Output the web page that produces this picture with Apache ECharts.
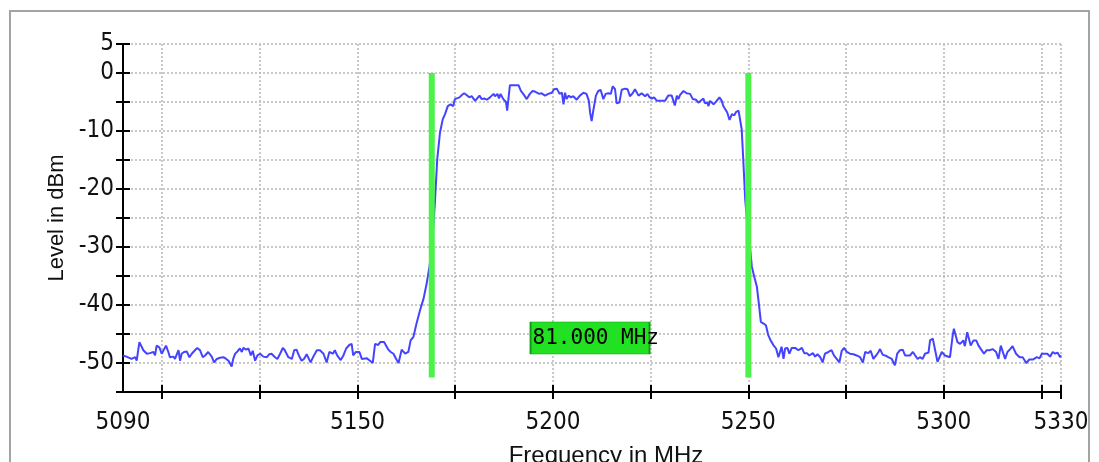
<!DOCTYPE html>
<html><head><meta charset="utf-8">
<script src="https://cdn.jsdelivr.net/npm/echarts@6/dist/echarts.min.js"></script>
<style>html,body{margin:0;padding:0;background:#fff}#c{width:1099px;height:462px}</style>
</head><body><div id="c"></div>
<script>
// Measured trace: [frequency MHz, level dBm]
const lowSkirt = [
[5090.0,-48.7],[5090.9,-48.9],[5092.2,-49.3],[5093.1,-49.0],[5093.5,-49.6],[5094.2,-46.4],[5094.5,-46.1],[5095.2,-47.8],
[5096.1,-48.4],[5096.9,-48.3],[5097.8,-48.1],[5098.2,-48.7],[5098.6,-47.0],[5099.3,-47.3],[5099.9,-48.4],[5100.3,-48.1],
[5101.0,-47.0],[5101.6,-48.1],[5102.0,-49.0],[5102.9,-48.9],[5103.3,-49.3],[5104.2,-47.8],[5104.6,-49.6],[5105.0,-48.4],
[5105.6,-48.1],[5106.3,-48.0],[5107.0,-49.0],[5107.6,-48.4],[5108.4,-47.8],[5109.0,-47.4],[5109.7,-47.8],[5110.4,-49.0],
[5111.0,-48.7],[5111.8,-48.1],[5112.7,-48.9],[5113.3,-49.9],[5114.0,-49.3],[5114.8,-49.1],[5115.7,-49.0],[5116.4,-49.3],
[5117.0,-49.6],[5117.4,-50.1],[5117.8,-50.6],[5118.2,-49.3],[5118.7,-48.4],[5119.3,-48.0],[5119.9,-47.5],[5120.4,-48.1],
[5120.8,-47.4],[5121.5,-47.7],[5122.1,-47.5],[5122.7,-48.7],[5123.2,-47.9],[5123.8,-49.6],[5124.4,-48.7],[5125.1,-48.4],
[5125.9,-48.9],[5126.8,-49.0],[5127.4,-48.5],[5128.0,-48.4],[5128.9,-49.0],[5129.5,-49.3],[5130.2,-48.4],[5130.9,-47.4],
[5131.4,-47.8],[5132.3,-49.0],[5133.2,-49.3],[5133.8,-47.8],[5134.4,-47.7],[5135.0,-48.7],[5135.7,-49.6],[5136.3,-49.3],
[5137.0,-48.5],[5137.4,-48.3],[5138.0,-49.9],[5138.7,-48.9],[5139.6,-47.8],
[5140.4,-47.8],[5141.3,-48.4],[5142.1,-49.9],[5142.8,-48.1],[5143.7,-48.4],[5144.2,-47.8],[5144.8,-48.7],[5145.7,-49.5],
[5146.4,-48.7],[5147.1,-47.5],[5147.9,-46.9],[5148.5,-46.7],[5148.9,-48.7],[5149.6,-48.1],[5150.5,-48.1],[5151.1,-49.3],
[5152.4,-49.2],[5153.2,-49.6],[5153.9,-50.0],[5154.5,-46.7],[5155.3,-46.9],[5155.8,-46.4],[5156.8,-46.4],[5157.3,-46.1],
[5157.9,-47.7],[5158.5,-48.1],[5159.2,-48.4],[5159.9,-49.3],[5160.5,-50.0],[5161.3,-47.7],[5162.2,-48.4],[5163.0,-48.1]
];
const lowerEdgeAndPassband = [
[5163.6,-46.1],[5164.3,-45.5],[5165.1,-43.2],[5166.0,-40.9],[5166.9,-38.9],[5167.7,-36.3],[5168.4,-33.4],[5169.0,-30.5],
[5169.4,-26.5],[5169.8,-22.4],[5170.4,-14.9],[5171.1,-10.3],[5171.8,-8.0],[5172.4,-7.1],[5173.1,-5.7],[5173.8,-5.4],
[5174.5,-5.7],[5174.9,-4.5],[5175.4,-4.8],[5176.1,-4.2],[5176.7,-3.8],[5177.3,-3.5],[5177.9,-3.8],[5178.6,-4.2],
[5179.2,-4.0],[5180.1,-4.8],[5181.2,-3.9],[5181.8,-4.5],[5182.4,-4.4],[5183.1,-4.6],[5183.9,-4.2],[5184.8,-3.6],
[5185.2,-4.0],[5185.8,-3.6],[5186.2,-4.4],[5186.6,-3.6],[5187.3,-4.5],[5188.0,-5.0],[5188.3,-6.5],[5189.0,-2.1],
[5191.2,-2.1],[5191.8,-3.1],[5192.4,-3.6],[5193.3,-4.5],[5194.1,-3.6],[5194.8,-3.1],[5195.4,-3.2],[5195.9,-3.1],
[5196.5,-3.6],[5197.1,-3.5],[5198.0,-3.9],[5198.8,-3.6],[5199.7,-3.4],[5200.3,-2.8],[5201.0,-2.7],[5201.7,-3.6],
[5202.3,-3.4],[5202.7,-5.4],[5203.1,-3.4],[5203.5,-4.5],[5204.0,-3.9],[5204.6,-4.2],[5205.2,-4.0],[5206.1,-4.6],
[5206.9,-3.9],[5207.8,-3.4],[5208.6,-3.6],[5209.2,-4.8],[5209.5,-6.8],[5209.9,-8.3],[5210.4,-6.2],[5211.0,-3.9],
[5211.6,-3.1],[5212.2,-2.9],[5212.9,-4.5],[5213.5,-3.6],[5214.2,-3.5],[5214.8,-3.6],[5215.3,-2.3],[5215.9,-2.8],
[5216.3,-5.2],[5217.0,-5.1],[5217.6,-2.9],[5218.5,-2.7],[5219.1,-2.8],[5219.7,-4.0],[5220.4,-3.5],[5221.0,-2.8],
[5221.4,-2.7],[5221.9,-3.9],[5222.7,-3.5],[5223.6,-4.0],[5224.2,-3.6],[5224.7,-4.2],[5225.3,-4.4],[5225.9,-4.2],
[5226.6,-4.8],[5227.4,-4.8],[5228.7,-4.8],[5229.5,-3.9],[5230.4,-3.9],[5230.8,-3.9],[5231.2,-5.6],[5231.7,-3.9],
[5232.1,-4.5],[5232.5,-3.8],[5233.4,-3.1],[5234.2,-3.5],[5235.1,-3.6],[5235.8,-4.5],[5236.6,-4.6],[5237.2,-5.1],
[5237.8,-4.8],[5238.5,-4.4],[5238.9,-5.2],[5239.5,-5.1],[5239.8,-5.7],[5240.2,-4.8],[5241.1,-5.4],[5241.9,-4.8],
[5242.6,-4.2]
];
const upperEdge = [
[5243.2,-4.8],[5243.6,-5.7],[5244.1,-5.7],[5244.6,-6.8],[5245.2,-8.1],[5245.8,-7.1],[5246.4,-7.3],[5246.9,-6.7],
[5247.5,-6.5],[5247.9,-6.8],[5248.3,-9.7],[5248.7,-14.9],[5249.2,-21.8],[5249.8,-26.5],[5250.4,-29.9],[5250.9,-33.4],
[5251.5,-35.1],[5252.2,-36.9],[5252.8,-40.4],[5253.2,-42.9],[5253.9,-43.2],[5254.5,-43.5],[5255.1,-45.2],[5255.7,-46.1],
[5256.4,-46.9],[5257.1,-47.5],[5257.7,-49.0],[5258.1,-48.9],[5258.5,-47.2],[5259.0,-49.3],[5259.4,-47.5],[5260.0,-47.4],
[5260.5,-48.4],[5261.1,-47.4],[5262.0,-47.4],[5262.8,-47.8],[5263.7,-47.4],[5264.3,-48.3],[5265.0,-48.3],[5265.6,-48.7],
[5266.5,-48.3],[5267.1,-48.9],[5267.7,-48.5],[5268.4,-49.0],[5269.0,-49.9],[5269.6,-48.4],[5270.5,-48.1],[5271.3,-47.8],
[5271.9,-48.7],[5272.6,-49.3],[5273.3,-49.9],[5273.9,-47.9],[5274.5,-47.4],[5275.2,-48.1],[5276.0,-48.4],[5276.9,-48.5],
[5277.7,-48.7],[5278.6,-49.0],[5279.3,-49.9],[5279.9,-48.1],[5280.7,-48.3],[5281.3,-47.9],[5282.0,-49.3],[5282.7,-48.7],
[5283.3,-48.1]
];
const highSkirt = [
[5283.7,-47.6],[5284.4,-48.6],[5285.0,-48.7],[5285.8,-49.0],[5286.7,-49.3],[5287.5,-50.4],[5288.1,-48.4],[5288.8,-47.8],
[5289.5,-47.7],[5290.1,-48.7],[5291.4,-48.7],[5292.1,-48.1],[5292.7,-48.7],[5293.3,-49.3],[5293.9,-49.0],[5294.6,-49.3],
[5295.2,-48.4],[5296.1,-48.2],[5296.5,-46.1],[5297.2,-45.8],[5297.8,-47.8],[5298.4,-49.8],[5298.9,-50.1],[5299.5,-48.1],
[5300.3,-48.7],[5301.6,-49.0],[5302.3,-45.2],[5302.6,-44.1],[5303.0,-44.4],[5303.5,-46.4],[5304.2,-46.7],[5304.6,-46.9],
[5305.0,-46.1],[5305.4,-47.1],[5306.0,-44.7],[5306.3,-44.4],[5306.9,-47.0],[5307.6,-46.1],[5308.3,-46.1],[5308.9,-47.0],
[5309.5,-47.6],[5310.3,-48.4],[5311.0,-47.8],[5311.7,-47.8],[5312.5,-47.6],[5312.9,-47.4],[5313.4,-48.1],[5314.0,-49.3],
[5314.6,-47.0],[5315.1,-47.0],[5315.7,-49.3],[5316.3,-48.1],[5317.0,-47.6],[5317.6,-47.1],[5318.5,-48.4],[5319.4,-49.0],
[5320.2,-49.0],[5321.1,-50.0],[5321.9,-49.4],[5322.8,-49.4],[5323.8,-49.0],[5324.5,-49.2],[5325.1,-48.4],[5325.9,-48.4],
[5326.5,-48.4],[5327.2,-48.9],[5327.9,-48.1],[5328.5,-48.4],[5329.1,-48.2],[5329.8,-49.0],[5330.0,-48.7]
];
const xTickValues = [5100,5125,5150,5175,5200,5225,5250,5275,5300,5325,5330];
const xLabelValues = [5090,5150,5200,5250,5300,5330];
const yLabelValues = [5,0,-10,-20,-30,-40,-50];
const markerFreqs = [5169, 5250];
const markerTopDbm = 0;
const markerBottomDbm = -52.5;
const spanLabelDbm = -45.7;

const trace = lowSkirt.concat(lowerEdgeAndPassband, upperEdge, highSkirt);
const spanText = (markerFreqs[1] - markerFreqs[0]).toFixed(3) + ' MHz';
const spanCenter = (markerFreqs[0] + markerFreqs[1]) / 2;

const tickFont = "'DejaVu Sans Condensed','DejaVu Sans',sans-serif";
const gridLine = {show: true, lineStyle: {color: '#b8b8b8', type: [2, 2], width: 1.5}};
const tickStyle = {color: '#000', width: 2};

const chart = echarts.init(document.getElementById('c'), null, {renderer: 'canvas'});
const markerSeries = markerFreqs.map((f, i) => {
  const s = {
    type: 'line', data: [[f, markerTopDbm], [f, markerBottomDbm]],
    symbol: 'none', silent: true, z: 5,
    lineStyle: {color: '#4cf24c', width: 6}
  };
  if (i === 0) {
    s.markPoint = {
      silent: true,
      symbol: 'rect', symbolSize: [119, 32],
      itemStyle: {color: '#22e022', borderColor: '#119a11', borderWidth: 1},
      label: {show: true, position: [3, 6], align: 'left', verticalAlign: 'top',
        formatter: spanText, color: '#000', fontSize: 21,
        fontFamily: "'DejaVu Sans Mono','Liberation Mono',monospace"},
      data: [{coord: [spanCenter, spanLabelDbm]}]
    };
  }
  return s;
});

chart.setOption({
  animation: false,
  backgroundColor: '#fff',
  grid: {left: 123, right: 38, top: 44, bottom: 70, containLabel: false, outerBoundsMode: 'none'},
  graphic: [{type: 'rect', shape: {x: 10, y: 11, width: 1079, height: 500},
    style: {fill: 'none', stroke: '#a4a4a4', lineWidth: 2}, silent: true, z: -1}],
  xAxis: [{
    type: 'value', min: 5090, max: 5330, position: 'bottom',
    name: 'Frequency in MHz', nameLocation: 'middle', nameGap: 52,
    nameTextStyle: {fontSize: 24, color: '#111', fontFamily: "'Liberation Sans',Arial,sans-serif", padding: [0, 0, 0, 28]},
    axisLine: {show: true, onZero: false, lineStyle: {color: '#000', width: 2}},
    axisTick: {show: true, inside: false, length: 7, customValues: xTickValues, lineStyle: tickStyle},
    axisLabel: {show: true, customValues: xLabelValues, margin: 19, fontSize: 24, color: '#111',
      fontFamily: tickFont, formatter: v => String(v)},
    splitLine: gridLine
  }, {
    type: 'value', min: 5090, max: 5330, position: 'bottom',
    axisLine: {show: false, onZero: false},
    axisTick: {show: true, inside: true, length: 7, customValues: xTickValues, lineStyle: tickStyle},
    axisLabel: {show: false}, splitLine: {show: false}
  }],
  yAxis: [{
    type: 'value', min: -55, max: 5, interval: 5, position: 'left',
    name: 'Level in dBm', nameLocation: 'middle', nameGap: 52,
    nameTextStyle: {fontSize: 22, color: '#111', fontFamily: "'Liberation Sans',Arial,sans-serif"},
    axisLine: {show: true, onZero: false, lineStyle: {color: '#000', width: 2}},
    axisTick: {show: true, inside: false, length: 7, lineStyle: tickStyle},
    axisLabel: {show: true, margin: 9, fontSize: 24, color: '#111', fontFamily: tickFont,
      formatter: v => yLabelValues.indexOf(v) >= 0 ? String(v) : ''},
    splitLine: gridLine
  }, {
    type: 'value', min: -55, max: 5, interval: 5, position: 'left',
    axisLine: {show: false, onZero: false},
    axisTick: {show: true, inside: true, length: 7, lineStyle: tickStyle},
    axisLabel: {show: false}, splitLine: {show: false}
  }],
  series: [{
    type: 'line', data: trace, showSymbol: false, symbol: 'none', silent: true, z: 3,
    lineStyle: {color: '#4444ff', width: 2}
  }].concat(markerSeries)
});
</script></body></html>
